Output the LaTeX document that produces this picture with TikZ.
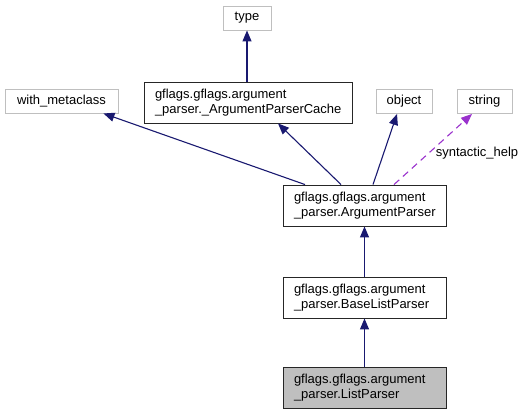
\documentclass[tikz,border=0pt]{standalone}
\usepackage{fontspec}
\setmainfont{Liberation Sans}
\usetikzlibrary{positioning,arrows.meta}
\definecolor{edgenavy}{HTML}{191970}
\definecolor{edgeorchid}{HTML}{9A32CD}
\definecolor{boxgrey}{HTML}{BFBFBF}

\begin{document}
\begin{tikzpicture}[
  x=1pt, y=-1pt,
  font=\fontsize{13}{15}\selectfont,
  cls/.style   = {rectangle, draw=black!85, line width=0.9pt, align=left,
                  inner xsep=11pt, inner ysep=0pt, minimum height=41pt},
  ext/.style   = {rectangle, draw=boxgrey, line width=0.9pt,
                  minimum height=24pt, inner sep=0pt},
  inh/.style   = {-{Triangle[length=11pt,width=9pt]}, draw=edgenavy,
                  line width=1.1pt},
  use/.style   = {-{Triangle[length=11pt,width=9pt]}, draw=edgeorchid,
                  line width=1.1pt, dash pattern=on 7pt off 5pt},
  tok/.style   = {inner sep=1pt},
]
\useasboundingbox (0,0) rectangle (526,413);

% Base classes outside the package
\node[ext, minimum width=48pt]  (type)   at (247,18)    {type};
\node[ext, minimum width=113pt] (meta)   at (61.5,101)  {with\_metaclass};
\node[ext, minimum width=56pt]  (object) at (404,101.5) {object};
\node[ext, minimum width=55pt]  (string) at (484.5,101.5) {string};

% Classes of the package
\node[cls, text width=186pt] (cache) at (248,102.5)
  {gflags.gflags.argument\\\_parser.\_ArgumentParserCache};
\node[cls, text width=141pt] (parser) at (364.5,205.5)
  {gflags.gflags.argument\\\_parser.ArgumentParser};
\node[cls, text width=141pt] (baselist) at (364.5,297.5)
  {gflags.gflags.argument\\\_parser.BaseListParser};
\node[cls, text width=141pt, fill=boxgrey] (list) at (364.5,387.5)
  {gflags.gflags.argument\\\_parser.ListParser};

% Inheritance
\draw[inh] (cache.north -| type.south) -- (type.south);
\draw[inh] ([xshift=-59.5pt]parser.north) -- ([xshift=-15pt]meta.south east);
\draw[inh] ([xshift=-23.5pt]parser.north) -- ([xshift=30pt]cache.south);
\draw[inh] ([xshift=8.5pt]parser.north) -- ([xshift=-7pt]object.south);
\draw[inh] (baselist.north) -- (parser.south);
\draw[inh] (list.north) -- (baselist.south);

% Usage
\draw[use] ([xshift=29.5pt]parser.north) -- ([xshift=-12.5pt]string.south);
\node[tok] (help) at (477,153) {syntactic\_help};
\end{tikzpicture}
\end{document}
